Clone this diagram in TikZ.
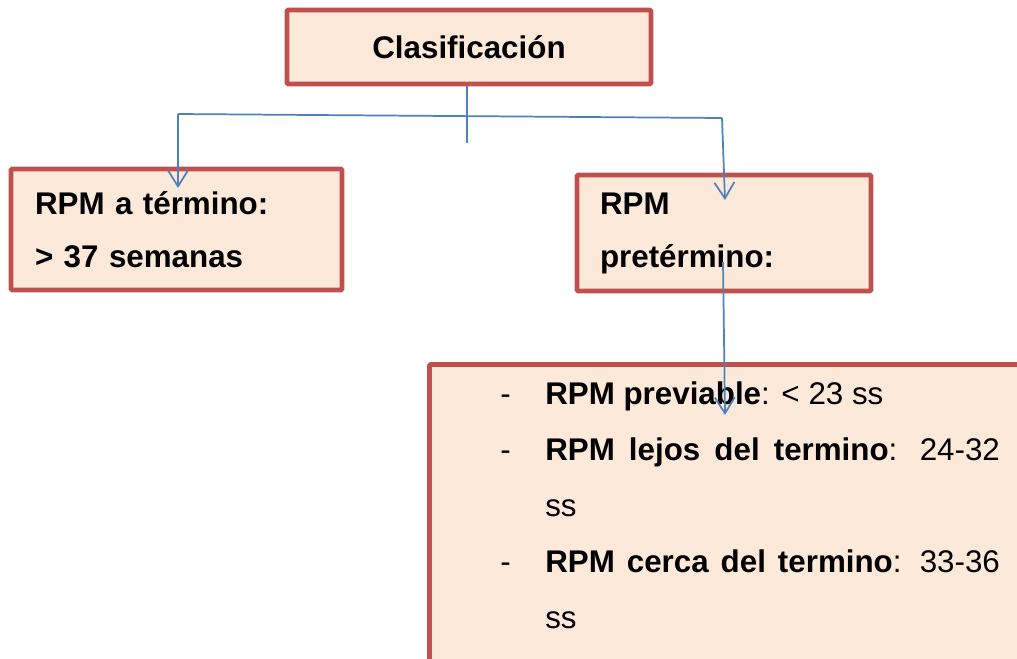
\documentclass[tikz,border=0pt]{standalone}
\usepackage{fontspec}
\setmainfont{Liberation Sans}
\usetikzlibrary{arrows.meta}
\definecolor{boxfill}{HTML}{FDE9D9}
\definecolor{boxline}{HTML}{C0504D}
\definecolor{linkblue}{HTML}{4F81BD}
\newcommand{\bigtext}{\fontsize{23.5}{39.75}\selectfont}
\tikzset{
  clasbox/.style = {draw = boxline, fill = boxfill, line width = 3.6pt, rounded corners = 1pt},
  link/.style = {linkblue, line width = 1.3pt},
  linkarrow/.style = {link, -{Straight Barb[length = 12pt, width = 15pt]}},
  itemline/.style = {anchor = base west, inner sep = 0pt, font = \bigtext}
}
\begin{document}
\begin{tikzpicture}[x = 0.75pt, y = -0.75pt]
\clip (0,0) rectangle (1017,658);
\fill[white] (0,0) rectangle (1017,658);

% boxes
\node[clasbox, minimum width = 273pt, minimum height = 55.5pt, font = \bigtext\bfseries] (clasif) at (469,47) {Clasificación};
\node[clasbox, text width = 212.25pt, inner xsep = 18pt, minimum height = 90.75pt, align = left, font = \bigtext\bfseries] (atermino) at (176.5,229.5) {RPM a término:\\> 37 semanas};
\node[clasbox, text width = 186pt, inner xsep = 17.25pt, minimum height = 87pt, align = left, font = \bigtext\bfseries] (pretermino) at (724,233) {RPM\\pretérmino:};
\node[clasbox, anchor = north west, minimum width = 460pt, minimum height = 247.5pt] (plazos) at (427,362) {};

% list inside the lower box
\foreach \y in {404,460,572}
   \node[itemline] (dash\y) at (500,\y) {-};

\node[itemline] (previable) at (545,404) {\textbf{RPM previable}: < 23 ss};
\node[itemline] (lejos) at (545,460) {\makebox[341pt][s]{\textbf{RPM lejos del termino}: 24-32}};
\node[itemline] (lejosss) at (545,516) {ss};
\node[itemline] (cerca) at (545,572) {\makebox[341pt][s]{\textbf{RPM cerca del termino}: 33-36}};
\node[itemline] (cercass) at (545,628) {ss};

% connectors
\coordinate (stub) at (467,143);
\coordinate (hl) at (178,114);
\coordinate (hr) at (722,118);
\coordinate (tipl) at (178,188);
\coordinate (tipr) at (725,200);
\coordinate (ptop) at (723,262);
\coordinate (tipp) at (725,415);

\draw[link] (stub |- clasif.south) -- (stub);
\draw[link] (hl) -- (hr);
\draw[linkarrow] (hl) -- (tipl);
\draw[linkarrow] (hr) -- (tipr);
\draw[linkarrow] (ptop) -- (tipp);
\end{tikzpicture}
\end{document}
